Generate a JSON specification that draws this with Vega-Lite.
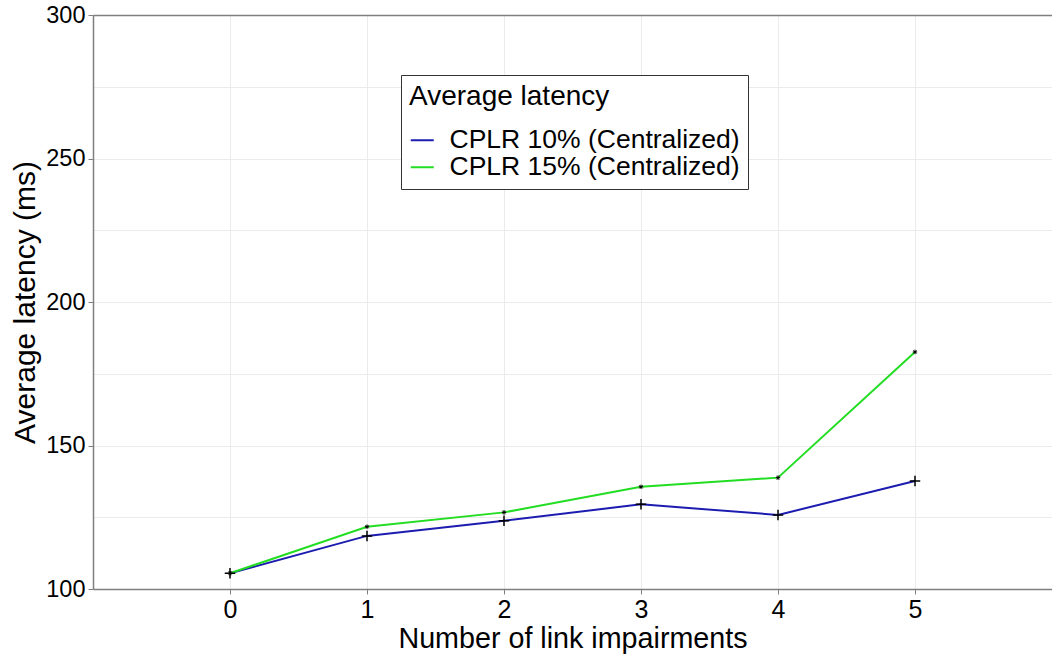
{
  "$schema": "https://vega.github.io/schema/vega-lite/v6.json",
  "autosize": {"type": "none"},
  "padding": {"left": 93, "top": 15, "right": 0, "bottom": 68},
  "width": 959,
  "height": 574,
  "background": "white",
  "config": {
    "view": {"stroke": null},
    "font": "Liberation Sans",
    "axis": {"labelFont": "Liberation Sans", "titleFont": "Liberation Sans", "labelColor": "#000", "titleColor": "#000", "titleFontWeight": "normal"},
    "legend": {"labelFont": "Liberation Sans", "titleFont": "Liberation Sans"}
  },
  "data": {
    "values": [
      {"x": 0, "y": 105.5, "series": "CPLR 10% (Centralized)"},
      {"x": 1, "y": 118.5, "series": "CPLR 10% (Centralized)"},
      {"x": 2, "y": 123.8, "series": "CPLR 10% (Centralized)"},
      {"x": 3, "y": 129.5, "series": "CPLR 10% (Centralized)"},
      {"x": 4, "y": 125.8, "series": "CPLR 10% (Centralized)"},
      {"x": 5, "y": 137.6, "series": "CPLR 10% (Centralized)"},
      {"x": 0, "y": 105.5, "series": "CPLR 15% (Centralized)"},
      {"x": 1, "y": 121.7, "series": "CPLR 15% (Centralized)"},
      {"x": 2, "y": 126.7, "series": "CPLR 15% (Centralized)"},
      {"x": 3, "y": 135.6, "series": "CPLR 15% (Centralized)"},
      {"x": 4, "y": 138.8, "series": "CPLR 15% (Centralized)"},
      {"x": 5, "y": 182.6, "series": "CPLR 15% (Centralized)"}
    ]
  },
  "encoding": {
    "x": {
      "field": "x", "type": "quantitative",
      "scale": {"domain": [-1, 6], "nice": false, "zero": false},
      "axis": {
        "title": "Number of link impairments",
        "titleFontSize": 28.7,
        "titlePadding": 2,
        "values": [-1, -0.5, 0, 0.5, 1, 1.5, 2, 2.5, 3, 3.5, 4, 4.5, 5, 5.5, 6],
        "format": "d",
        "labelExpr": "(datum.value >= 0 && datum.value <= 5 && datum.value % 1 == 0) ? datum.label : ''",
        "labelFontSize": 25,
        "labelPadding": 3,
        "labelFlush": false,
        "labelOverlap": false,
        "tickSize": 5,
        "tickColor": "#7f7f7f",
        "tickOpacity": {"condition": {"test": "datum.value % 1 != 0 || datum.value < 0 || datum.value > 5", "value": 0}, "value": 1},
        "domainColor": "#7f7f7f",
        "domainWidth": 1.5,
        "gridColor": "#ebebeb",
        "gridWidth": 1
      }
    },
    "y": {
      "field": "y", "type": "quantitative",
      "scale": {"domain": [100, 300], "nice": false, "zero": false},
      "axis": {
        "title": "Average latency (ms)",
        "titleFontSize": 30,
        "titlePadding": 5,
        "values": [100, 125, 150, 175, 200, 225, 250, 275, 300],
        "labelExpr": "datum.value % 50 == 0 ? datum.label : ''",
        "labelFontSize": 23.5,
        "labelPadding": 3,
        "labelFlush": false,
        "labelOverlap": false,
        "tickSize": 5,
        "tickColor": "#7f7f7f",
        "tickOpacity": {"condition": {"test": "datum.value % 50 != 0", "value": 0}, "value": 1},
        "domainColor": "#7f7f7f",
        "domainWidth": 1.5,
        "gridColor": {"condition": {"test": "datum.value == 300", "value": "#7f7f7f"}, "value": "#ebebeb"},
        "gridWidth": {"condition": {"test": "datum.value == 300", "value": 1.5}, "value": 1}
      }
    }
  },
  "layer": [
    {
      "mark": {"type": "line", "strokeWidth": 2},
      "encoding": {
        "color": {
          "field": "series", "type": "nominal",
          "scale": {"domain": ["CPLR 10% (Centralized)", "CPLR 15% (Centralized)"], "range": ["#1c1cb0", "#22dd22"]},
          "legend": {
            "title": "Average latency",
            "orient": "none",
            "legendX": 308,
            "legendY": 60,
            "titleFontSize": 28,
            "titleFontWeight": "normal",
            "titleColor": "#000",
            "titleLimit": 400,
            "labelFontSize": 26.5,
            "labelColor": "#000",
            "labelLimit": 400,
            "labelOffset": 14,
            "symbolType": "stroke",
            "symbolStrokeWidth": 2,
            "symbolSize": 529,
            "strokeColor": "#333",
            "fillColor": "white",
            "padding": 8,
            "rowPadding": -4,
            "titlePadding": 16
          }
        }
      }
    },
    {
      "transform": [{"filter": "datum.series == 'CPLR 10% (Centralized)'"}],
      "mark": {"type": "point", "filled": false, "stroke": "#000", "strokeWidth": 1.5, "opacity": 1, "shape": "M-1,0L1,0M0,-1L0,1", "size": 110}
    },
    {
      "transform": [{"filter": "datum.series == 'CPLR 15% (Centralized)'"}],
      "mark": {"type": "point", "filled": false, "stroke": "#000", "strokeWidth": 1, "opacity": 1, "shape": "M-1,0L1,0M0,-1L0,1M-0.7,-0.7L0.7,0.7M-0.7,0.7L0.7,-0.7", "size": 20}
    }
  ]
}
